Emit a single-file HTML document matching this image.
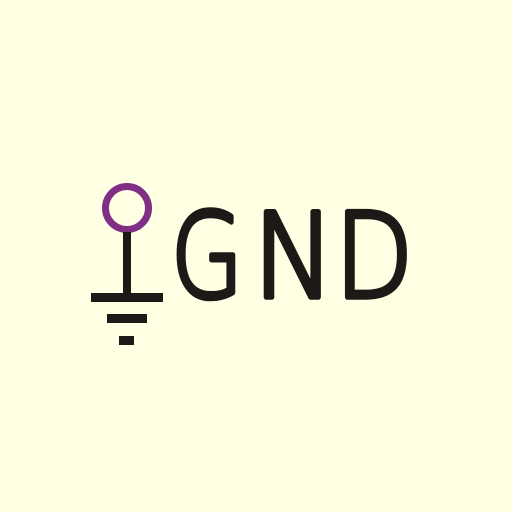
<!DOCTYPE html>
<html><head><meta charset="utf-8"><style>
html,body{margin:0;padding:0;background:#ffffe4;}
svg{display:block}
</style></head><body>
<svg width="512" height="512" viewBox="0 0 512 512">
<rect x="0" y="0" width="512" height="512" fill="#ffffe4"/>
<circle cx="127" cy="208" r="21.5" fill="none" stroke="#7f2f84" stroke-width="7"/>
<rect x="123" y="232" width="8" height="66" fill="#1c1917"/>
<rect x="91" y="293" width="72" height="9" fill="#1c1917"/>
<rect x="107" y="314" width="40" height="9" fill="#1c1917"/>
<rect x="119" y="336" width="15" height="9" fill="#1c1917"/>
<g font-family="'DejaVu Sans ExtraLight','DejaVu Sans','Liberation Sans',sans-serif" font-weight="200" font-size="117" fill="#1c1917" stroke="#1c1917" stroke-width="5.5" stroke-linejoin="round" stroke-linecap="round">
<text x="171" y="297" textLength="72" lengthAdjust="spacingAndGlyphs">G</text>
<text x="253" y="297" textLength="82" lengthAdjust="spacingAndGlyphs">N</text>
<text x="335" y="297" textLength="78" lengthAdjust="spacingAndGlyphs">D</text>
</g>
</svg>
</body></html>
